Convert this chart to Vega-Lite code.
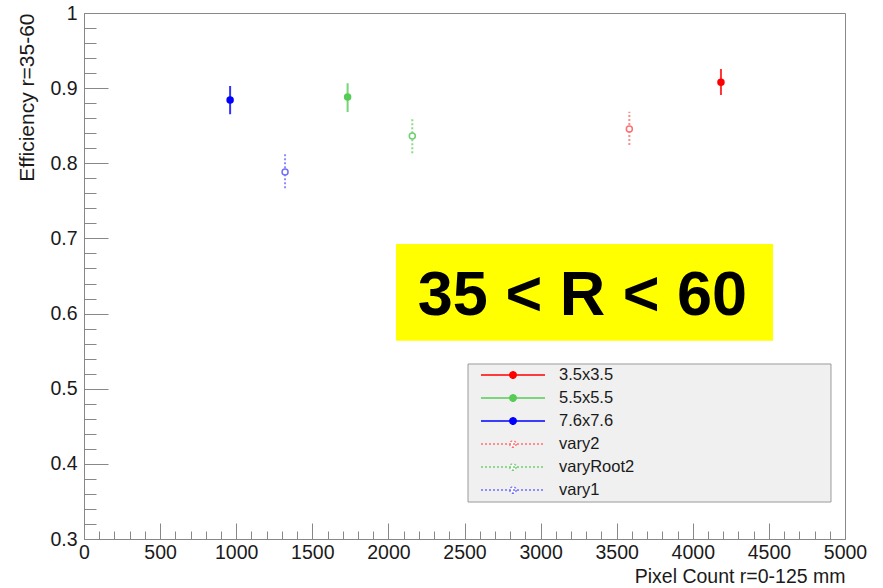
{
  "$schema": "https://vega.github.io/schema/vega-lite/v6.json",
  "width": 761,
  "height": 526,
  "autosize": {"type": "none"},
  "padding": {"left": 84, "top": 13, "right": 38, "bottom": 49},
  "background": "white",
  "config": {
    "font": "Liberation Sans",
    "view": {"stroke": "#888888", "strokeWidth": 1},
    "axis": {
      "grid": false,
      "domainColor": "#888888",
      "tickColor": "#888888",
      "labelColor": "#1a1a1a",
      "titleColor": "#1a1a1a",
      "labelFont": "Liberation Sans",
      "titleFont": "Liberation Sans",
      "labelFontSize": 19.5,
      "titleFontSize": 19.5,
      "titleFontWeight": "normal",
      "labelFlush": false,
      "labelOverlap": false
    }
  },
  "datasets": {
    "pts": [
      {"series": "7.6x7.6", "x": 960, "y": 0.8842, "lo": 0.8652, "hi": 0.9028},
      {"series": "vary1", "x": 1321, "y": 0.7884, "lo": 0.7667, "hi": 0.8133},
      {"series": "5.5x5.5", "x": 1732, "y": 0.8882, "lo": 0.8682, "hi": 0.9064},
      {"series": "varyRoot2", "x": 2157, "y": 0.8363, "lo": 0.8133, "hi": 0.8585},
      {"series": "vary2", "x": 3583, "y": 0.8456, "lo": 0.8243, "hi": 0.8686},
      {"series": "3.5x3.5", "x": 4185, "y": 0.9078, "lo": 0.8909, "hi": 0.9255}
    ],
    "note": [{"label": "35 < R < 60"}]
  },
  "resolve": {"axis": {"x": "independent", "y": "independent"}},
  "layer": [
    {
      "data": {"name": "pts"},
      "transform": [{"filter": "false"}],
      "mark": {"type": "point", "filled": true, "opacity": 1},
      "encoding": {
        "x": {"field": "x", "type": "quantitative", "axis": null, "scale": {"domain": [0, 5000], "nice": false, "zero": false}},
        "y": {"field": "y", "type": "quantitative", "axis": null, "scale": {"domain": [0.3, 1], "nice": false, "zero": false}},
        "fill": {
          "field": "series", "type": "nominal",
          "scale": {"domain": ["3.5x3.5", "5.5x5.5", "7.6x7.6", "vary2", "varyRoot2", "vary1"], "range": ["#ff0000", "#55cc55", "#0000ff", "#ffffff", "#ffffff", "#ffffff"]},
          "legend": {"title": null, "orient": "none", "legendX": 384, "legendY": 353, "symbolType": "M-4,0H4M0.4,0A0.4,0.4,0,1,1,-0.4,0A0.4,0.4,0,1,1,0.4,0Z", "symbolSize": 256, "symbolStrokeWidth": 1.5, "symbolFillColor": "#ffffff", "symbolOpacity": 1, "symbolOffset": 36, "labelOffset": 37, "labelFontSize": 16.5, "labelFont": "Liberation Sans", "labelColor": "#1a1a1a", "rowPadding": 5, "padding": 0, "labelLimit": 200}
        },
        "stroke": {
          "field": "series", "type": "nominal",
          "scale": {"domain": ["3.5x3.5", "5.5x5.5", "7.6x7.6", "vary2", "varyRoot2", "vary1"], "range": ["#ff0000", "#55cc55", "#0000ff", "#ff6f6f", "#6fd06f", "#6f6fff"]},
          "legend": {"title": null, "orient": "none", "legendX": 384, "legendY": 353, "symbolType": "M-4,0H4M0.4,0A0.4,0.4,0,1,1,-0.4,0A0.4,0.4,0,1,1,0.4,0Z", "symbolSize": 256, "symbolStrokeWidth": 1.5, "symbolFillColor": "#ffffff", "symbolOpacity": 1, "symbolOffset": 36, "labelOffset": 37, "labelFontSize": 16.5, "labelFont": "Liberation Sans", "labelColor": "#1a1a1a", "rowPadding": 5, "padding": 0, "labelLimit": 200}
        },
        "strokeDash": {
          "field": "series", "type": "nominal",
          "scale": {"domain": ["3.5x3.5", "5.5x5.5", "7.6x7.6", "vary2", "varyRoot2", "vary1"], "range": [[1, 0], [1, 0], [1, 0], [2, 2], [2, 2], [2, 2]]},
          "legend": {"title": null, "orient": "none", "legendX": 384, "legendY": 353, "symbolType": "M-4,0H4M0.4,0A0.4,0.4,0,1,1,-0.4,0A0.4,0.4,0,1,1,0.4,0Z", "symbolSize": 256, "symbolStrokeWidth": 1.5, "symbolFillColor": "#ffffff", "symbolOpacity": 1, "symbolOffset": 36, "labelOffset": 37, "labelFontSize": 16.5, "labelFont": "Liberation Sans", "labelColor": "#1a1a1a", "rowPadding": 5, "padding": 0, "labelLimit": 200}
        }
      }
    },
    {
      "data": {"name": "note"},
      "mark": {"type": "rect", "fill": "#f0f0f0", "stroke": "#9a9a9a", "strokeWidth": 1},
      "encoding": {
        "x": {"datum": 2523, "type": "quantitative", "axis": null},
        "x2": {"datum": 4908},
        "y": {"datum": 0.5329, "type": "quantitative", "axis": null},
        "y2": {"datum": 0.3492}
      }
    },
    {
      "data": {"name": "note"},
      "mark": {"type": "rect", "fill": "#ffff00"},
      "encoding": {
        "x": {"datum": 2050, "type": "quantitative", "axis": null},
        "x2": {"datum": 4527},
        "y": {"datum": 0.6926, "type": "quantitative", "axis": null},
        "y2": {"datum": 0.5639}
      }
    },
    {
      "data": {"name": "note"},
      "mark": {"type": "text", "font": "Liberation Sans", "fontWeight": "bold", "fontSize": 63, "align": "center", "baseline": "alphabetic", "color": "#000000"},
      "encoding": {
        "x": {"datum": 3275, "type": "quantitative", "axis": null},
        "y": {"datum": 0.598, "type": "quantitative", "axis": null},
        "text": {"field": "label"}
      }
    },
    {
      "data": {"name": "pts"},
      "mark": {"type": "rule", "strokeWidth": 2, "opacity": 0.8},
      "encoding": {
        "x": {
          "field": "x", "type": "quantitative",
          "scale": {"domain": [0, 5000], "nice": false, "zero": false},
          "axis": {"orient": "bottom", "values": [0, 500, 1000, 1500, 2000, 2500, 3000, 3500, 4000, 4500, 5000], "format": "d", "tickSize": -16, "labelPadding": 20, "title": "Pixel Count r=0-125 mm", "titleX": 761, "titleY": 43.5, "titleAlign": "right", "titleBaseline": "alphabetic", "titleAnchor": "end"}
        },
        "y": {
          "field": "lo", "type": "quantitative",
          "scale": {"domain": [0.3, 1], "nice": false, "zero": false},
          "axis": {"orient": "left", "values": [0.3, 0.4, 0.5, 0.6, 0.7, 0.8, 0.9, 1], "format": "~g", "tickSize": -24, "labelPadding": 31, "title": "Efficiency r=35-60", "titleFontSize": 21, "titleX": -51, "titleY": 0, "titleAngle": 270, "titleAlign": "right", "titleBaseline": "alphabetic", "titleAnchor": "end"}
        },
        "y2": {"field": "hi"},
        "stroke": {"field": "series", "type": "nominal", "scale": {"domain": ["3.5x3.5", "5.5x5.5", "7.6x7.6", "vary2", "varyRoot2", "vary1"], "range": ["#ff0000", "#55cc55", "#0000ff", "#ff6f6f", "#6fd06f", "#6f6fff"]}},
        "strokeDash": {"field": "series", "type": "nominal", "scale": {"domain": ["3.5x3.5", "5.5x5.5", "7.6x7.6", "vary2", "varyRoot2", "vary1"], "range": [[1, 0], [1, 0], [1, 0], [2, 2], [2, 2], [2, 2]]}}
      }
    },
    {
      "data": {"name": "pts"},
      "mark": {"type": "point", "shape": "circle", "filled": true, "size": 36, "strokeWidth": 1.5, "opacity": 1},
      "encoding": {
        "x": {
          "field": "x", "type": "quantitative",
          "scale": {"domain": [0, 5000], "nice": false, "zero": false},
          "axis": {"orient": "bottom", "values": [0, 100, 200, 300, 400, 500, 600, 700, 800, 900, 1000, 1100, 1200, 1300, 1400, 1500, 1600, 1700, 1800, 1900, 2000, 2100, 2200, 2300, 2400, 2500, 2600, 2700, 2800, 2900, 3000, 3100, 3200, 3300, 3400, 3500, 3600, 3700, 3800, 3900, 4000, 4100, 4200, 4300, 4400, 4500, 4600, 4700, 4800, 4900, 5000], "tickSize": -8, "labels": false, "domain": false, "title": null}
        },
        "y": {
          "field": "y", "type": "quantitative",
          "scale": {"domain": [0.3, 1], "nice": false, "zero": false},
          "axis": {"orient": "left", "values": [0.3, 0.32, 0.34, 0.36, 0.38, 0.4, 0.42, 0.44, 0.46, 0.48, 0.5, 0.52, 0.54, 0.56, 0.58, 0.6, 0.62, 0.64, 0.66, 0.68, 0.7, 0.72, 0.74, 0.76, 0.78, 0.8, 0.82, 0.84, 0.86, 0.88, 0.9, 0.92, 0.94, 0.96, 0.98, 1], "tickSize": -12, "labels": false, "domain": false, "title": null}
        },
        "fill": {"field": "series", "type": "nominal", "scale": {"domain": ["3.5x3.5", "5.5x5.5", "7.6x7.6", "vary2", "varyRoot2", "vary1"], "range": ["#ff0000", "#55cc55", "#0000ff", "#ffffff", "#ffffff", "#ffffff"]}},
        "stroke": {"field": "series", "type": "nominal", "scale": {"domain": ["3.5x3.5", "5.5x5.5", "7.6x7.6", "vary2", "varyRoot2", "vary1"], "range": ["#ff0000", "#55cc55", "#0000ff", "#ff6f6f", "#6fd06f", "#6f6fff"]}}
      }
    }
  ]
}
